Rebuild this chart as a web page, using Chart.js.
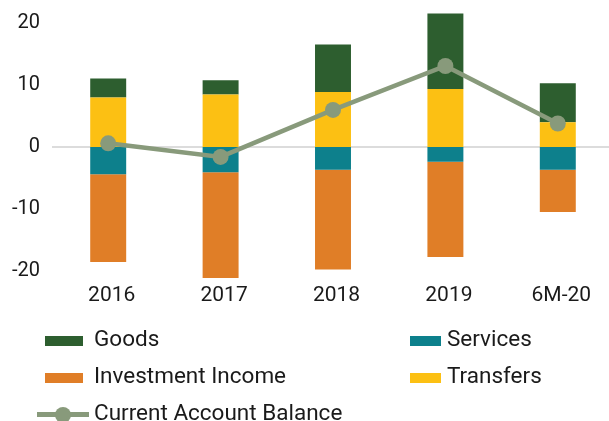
<!DOCTYPE html>
<html>
<head>
<meta charset="utf-8">
<script src="https://cdn.jsdelivr.net/npm/chart.js@4/dist/chart.umd.min.js"></script>
<style>
  html, body { margin: 0; padding: 0; background: #fff; overflow: hidden; }
  #wrap { position: relative; width: 609px; height: 421px; overflow: hidden; }
  #canvasBox { position: absolute; left: 0; top: 0; width: 614px; height: 421px; }
  .leg { position: absolute; font-family: Roboto, sans-serif; font-size: 22.5px; color: #1a1a1a; line-height: 26px; white-space: nowrap; }
  .sw { position: absolute; }
</style>
</head>
<body>
<div id="wrap">
  <div id="canvasBox"><canvas id="grafico"></canvas></div>
  <div id="legenda"></div>
</div>
<script>
// dados
const categorias = ['2016', '2017', '2018', '2019', '6M-20']
const goods = [3.1, 2.3, 7.7, 12.2, 6.3]
const transfers = [8.0, 8.5, 8.9, 9.4, 4.0]
const services = [-4.4, -4.1, -3.7, -2.4, -3.7]
const investment = [-14.2, -17.1, -16.1, -15.4, -6.8]
const balance = [0.6, -1.6, 6.0, 13.1, 3.8]
const yTicks = [-20, -10, 0, 10, 20]

const cores = {
  goods: '#2d5e2f',
  services: '#0d808c',
  investment: '#e07e27',
  transfers: '#fcc013',
  balance: '#889a7b'
}

function barra(label, data, cor){
  return {
    type: 'bar',
    label: label,
    data: data,
    backgroundColor: cor,
    stack: 'ca',
    order: 1,
    barPercentage: 0.32,
    categoryPercentage: 1
  }
}

// tira o padding automatico dos eixos
function semPadding(scale){
  scale.paddingTop = 0
  scale.paddingBottom = 0
  scale.paddingLeft = 0
  scale.paddingRight = 0
}

// linha do zero desenhada antes das barras (as barras cobrem a linha)
const linhaZero = {
  id: 'linhaZero',
  beforeDatasetsDraw(chart){
    const {ctx, chartArea, scales} = chart
    const y = scales.y.getPixelForValue(0)
    ctx.save()
    ctx.strokeStyle = '#dcdcdc'
    ctx.lineWidth = 2
    ctx.beginPath()
    ctx.moveTo(chartArea.left, y)
    ctx.lineTo(chartArea.right, y)
    ctx.stroke()
    ctx.restore()
  }
}

const grafico = new Chart(document.getElementById('grafico'), {
  data: {
    labels: categorias,
    datasets: [
      barra('Transfers', transfers, cores.transfers),
      barra('Goods', goods, cores.goods),
      barra('Services', services, cores.services),
      barra('Investment Income', investment, cores.investment),
      {
        type: 'line',
        label: 'Current Account Balance',
        data: balance,
        borderColor: cores.balance,
        backgroundColor: cores.balance,
        borderWidth: 4.5,
        pointRadius: 8,
        pointHoverRadius: 8,
        pointBorderWidth: 0,
        tension: 0,
        order: 0
      }
    ]
  },
  plugins: [linhaZero],
  options: {
    responsive: true,
    maintainAspectRatio: false,
    animation: false,
    layout: { autoPadding: false, padding: { left: 12, top: 11, right: 0, bottom: 112 } },
    plugins: { legend: { display: false }, tooltip: { enabled: false } },
    scales: {
      x: {
        stacked: true,
        afterFit: (scale) => { semPadding(scale); scale.height = 26 },
        grid: { display: false, drawTicks: false },
        border: { display: false },
        ticks: { color: '#1a1a1a', font: { family: 'Roboto', size: 21 }, padding: 0, labelOffset: 3.5 }
      },
      y: {
        stacked: true,
        min: -22,
        max: 22,
        afterBuildTicks: (scale) => { scale.ticks = yTicks.map(v => ({ value: v })) },
        afterFit: (scale) => { semPadding(scale); scale.width = 40 },
        grid: { display: false, drawTicks: false },
        border: { display: false },
        ticks: { color: '#1a1a1a', font: { family: 'Roboto', size: 20 }, padding: 12 }
      }
    }
  }
})

// legenda em html, duas colunas (y = topo do texto)
const itensLegenda = [
  { nome: 'Goods', cor: cores.goods, x: 45, w: 38, tx: 94, y: 325, by: 336 },
  { nome: 'Services', cor: cores.services, x: 410, w: 31, tx: 447, y: 325, by: 336 },
  { nome: 'Investment Income', cor: cores.investment, x: 45, w: 38, tx: 94, y: 362, by: 373 },
  { nome: 'Transfers', cor: cores.transfers, x: 410, w: 31, tx: 447, y: 362, by: 373 },
  { nome: 'Current Account Balance', cor: cores.balance, x: 37, w: 52, tx: 94, y: 399, by: 412, linha: true }
]

const legenda = document.getElementById('legenda')
itensLegenda.forEach((item) => {
  if(item.linha){
    let l = document.createElement('div')
    l.className = 'sw'
    l.style.cssText = `left:${item.x}px;top:${item.by}px;width:${item.w}px;height:5px;background:${item.cor}`
    legenda.appendChild(l)
    let p = document.createElement('div')
    p.className = 'sw'
    p.style.cssText = `left:${item.x + 18}px;top:${item.by - 5.5}px;width:16px;height:16px;border-radius:50%;background:${item.cor}`
    legenda.appendChild(p)
  }else{
    let b = document.createElement('div')
    b.className = 'sw'
    b.style.cssText = `left:${item.x}px;top:${item.by}px;width:${item.w}px;height:10px;background:${item.cor}`
    legenda.appendChild(b)
  }
  let t = document.createElement('div')
  t.className = 'leg'
  t.textContent = item.nome
  t.style.left = item.tx + 'px'
  t.style.top = item.y + 'px'
  legenda.appendChild(t)
})
</script>
</body>
</html>
